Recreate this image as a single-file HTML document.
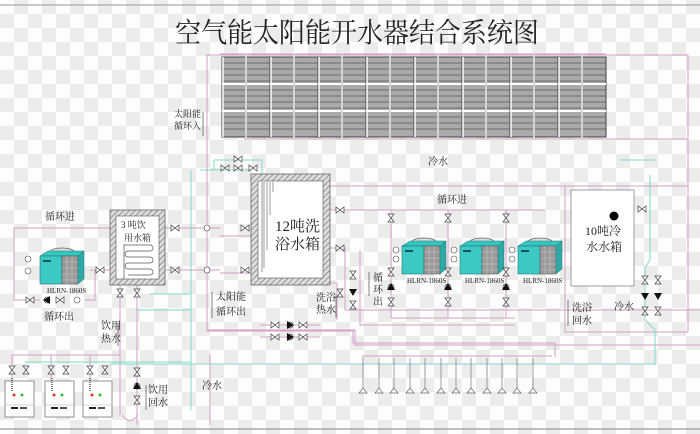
<!DOCTYPE html>
<html><head><meta charset="utf-8"><style>
html,body{margin:0;padding:0}
body{width:700px;height:434px;overflow:hidden;background-color:#fff;background-image:repeating-conic-gradient(#ececec 0 25%,#fdfdfd 0 50%);background-size:28px 28px}
svg{position:absolute;left:0;top:0}
text{font-family:"Liberation Serif","Noto Serif CJK SC",serif;fill:#222}
</style></head><body>
<svg width="700" height="434" viewBox="0 0 700 434" xmlns="http://www.w3.org/2000/svg">
<defs>
<pattern id="hatch" width="4" height="4" patternUnits="userSpaceOnUse" patternTransform="rotate(45)">
<rect width="4" height="4" fill="#ddd"/><line x1="0" y1="0" x2="0" y2="4" stroke="#777" stroke-width="1.4"/></pattern>
<g id="panel">
<rect x="0" y="0" width="48" height="80" fill="#a9a9a9"/>
<g stroke="#6a6a6a" stroke-width="1">
<line x1="0" y1="6" x2="48" y2="6"/><line x1="0" y1="12" x2="48" y2="12"/><line x1="0" y1="18" x2="48" y2="18"/><line x1="0" y1="24" x2="48" y2="24"/>
<line x1="0" y1="33" x2="48" y2="33"/><line x1="0" y1="39" x2="48" y2="39"/><line x1="0" y1="45" x2="48" y2="45"/><line x1="0" y1="51" x2="48" y2="51"/>
<line x1="0" y1="60" x2="48" y2="60"/><line x1="0" y1="66" x2="48" y2="66"/><line x1="0" y1="72" x2="48" y2="72"/></g>
<rect x="0" y="0" width="48" height="80" fill="none" stroke="#444" stroke-width="1"/>
<line x1="0" y1="27" x2="48" y2="27" stroke="#fff" stroke-width="2"/>
<line x1="0" y1="54" x2="48" y2="54" stroke="#fff" stroke-width="2"/>
<line x1="1" y1="0" x2="1" y2="80" stroke="#fff" stroke-width="1.5"/>
<line x1="24" y1="-3" x2="24" y2="83" stroke="#fff" stroke-width="2"/>
<line x1="24" y1="-3" x2="24" y2="83" stroke="#555" stroke-width="0.5"/>
</g>
<g id="hp">
<ellipse cx="22" cy="-2" rx="12" ry="4" fill="#ddd" stroke="#666" stroke-width="0.8"/>
<polygon points="0,2 8,-3 44,-3 38,2" fill="#35c6c0" stroke="#277" stroke-width="0.5"/>
<rect x="0" y="2" width="22" height="28" fill="#3cc9c3" stroke="#277" stroke-width="0.6"/>
<rect x="22" y="2" width="16" height="28" fill="#9a9a9a" stroke="#555" stroke-width="0.6"/>
<polygon points="38,2 44,-3 44,25 38,30" fill="#2ea9a4" stroke="#277" stroke-width="0.5"/>
<g stroke="#ccc" stroke-width="0.5"><line x1="22" y1="8" x2="38" y2="8"/><line x1="22" y1="14" x2="38" y2="14"/><line x1="22" y1="20" x2="38" y2="20"/><line x1="22" y1="26" x2="38" y2="26"/>
<line x1="27" y1="2" x2="27" y2="30"/><line x1="32" y1="2" x2="32" y2="30"/></g>
<rect x="3" y="6" width="8" height="2" fill="#156"/>
</g>
<g id="vv"><path d="M-3,-4 L3,-4 L-3,4 L3,4 Z" fill="#fff" stroke="#444" stroke-width="0.7"/></g>
<g id="vh"><path d="M-4,-3 L-4,3 L4,-3 L4,3 Z" fill="#fff" stroke="#444" stroke-width="0.7"/></g>
<g id="pump"><circle r="3" fill="#fff" stroke="#333" stroke-width="0.6"/><polygon points="-4,3 4,3 0,-4" fill="#111"/></g>
<g id="pumpd"><polygon points="-4,-3 4,-3 0,4" fill="#111"/></g>
<g id="shower"><line x1="0" y1="0" x2="0" y2="30" stroke="#888" stroke-width="0.8"/><path d="M-4,35 L0,30 L4,35 Z" fill="#fff" stroke="#666" stroke-width="0.7"/></g>
<g id="heater"><rect x="0" y="0" width="29" height="36" fill="#fff" stroke="#777" stroke-width="0.8"/>
<line x1="7" y1="-3" x2="7" y2="10" stroke="#555" stroke-width="1.5" stroke-dasharray="1 1"/>
<circle cx="9" cy="14" r="1.5" fill="#d33"/><circle cx="17" cy="14" r="1.5" fill="#3b3"/>
<line x1="0" y1="24" x2="29" y2="24" stroke="#aaa" stroke-width="0.5"/>
<rect x="6" y="26" width="7" height="2" fill="#222"/><rect x="15" y="26" width="7" height="2" fill="#555"/></g>
</defs>

<line x1="0" y1="5" x2="700" y2="5" stroke="#aaa" stroke-width="1.2"/>
<line x1="0" y1="429" x2="700" y2="429" stroke="#999" stroke-width="1.2"/>
<text x="357" y="42" font-size="26" text-anchor="middle" font-family="Liberation Sans,Noto Sans CJK SC,sans-serif" transform="translate(357 0) scale(1 1.05) translate(-357 -2)">空气能太阳能开水器结合系统图</text>

<!-- pink outer pipes -->
<g stroke="#d4a0c4" stroke-width="1" fill="none">
<polyline points="207,150 207,55 688,55 688,332"/>
<line x1="220" y1="54" x2="606" y2="54"/>
<line x1="244" y1="139" x2="688" y2="139"/>
<polyline points="207,150 207,330 355,330"/>
<line x1="220" y1="236" x2="251" y2="236"/>
<line x1="220" y1="273" x2="251" y2="273"/>
<line x1="165" y1="228" x2="220" y2="228"/>
<line x1="165" y1="270" x2="220" y2="270"/>
<polyline points="14,228 14,300 40,300"/>
<line x1="14" y1="228" x2="110" y2="228"/>
<polyline points="90,270 110,270"/>
<polyline points="85,300 95,300 95,270"/>
<polyline points="330,186 688,186"/>
<polyline points="330,210 545,210"/>
<polyline points="330,248 345,248 345,310 700,310"/>
<polyline points="360,250 360,325 515,325"/>
<line x1="391" y1="210" x2="391" y2="318"/><line x1="448" y1="210" x2="448" y2="318"/><line x1="506" y1="210" x2="506" y2="318"/>
<polyline points="391,318 515,318"/>
<polyline points="565,186 565,332 688,332"/>
<polyline points="330,283 337,283 337,320"/>
<polyline points="207,331 355,331 355,345 700,345"/>
<polyline points="353,332 353,343 555,343 555,357"/>
<polyline points="363,368 363,356 552,356"/>
<line x1="210" y1="354" x2="210" y2="425"/>
<line x1="12" y1="355" x2="120" y2="355"/>
<line x1="120" y1="285" x2="120" y2="415"/>
<line x1="12" y1="355" x2="12" y2="385"/><line x1="51" y1="355" x2="51" y2="385"/><line x1="90" y1="355" x2="90" y2="385"/>
</g>
<!-- cyan pipes -->
<g stroke="#7fd9cc" stroke-width="1" fill="none">
<line x1="191" y1="170" x2="191" y2="410"/>
<polyline points="214,170 214,160 262,160 262,174"/>
<line x1="200" y1="170" x2="250" y2="170"/>
<line x1="620" y1="160" x2="655" y2="160"/>
<polyline points="650,175 650,260 645,268 645,320 655,330 655,365"/>
<line x1="110" y1="364" x2="655" y2="364"/>
<line x1="25" y1="362" x2="191" y2="362"/>
<line x1="137" y1="310" x2="191" y2="310"/>
<line x1="150" y1="294" x2="190" y2="294"/>
</g>
<line x1="137" y1="283" x2="137" y2="425" stroke="#d4a0c4"/>
<path d="M122,415 Q130,426 138,415" fill="none" stroke="#d4a0c4"/>

<!-- solar panels -->
<g>
<use href="#panel" x="222" y="57"/><use href="#panel" x="270" y="57"/><use href="#panel" x="318" y="57"/><use href="#panel" x="366" y="57"/>
<use href="#panel" x="414" y="57"/><use href="#panel" x="462" y="57"/><use href="#panel" x="510" y="57"/><use href="#panel" x="558" y="57"/>
</g>
<text x="174" y="117" font-size="9">太阳能</text><text x="174" y="129" font-size="9">循环入</text>
<line x1="203" y1="112" x2="203" y2="136" stroke="#333" stroke-width="0.6"/>

<!-- valves near 12t tank top -->
<use href="#vh" x="238" y="159"/><use href="#vh" x="225" y="168"/><use href="#vh" x="238" y="168"/><use href="#vh" x="253" y="168"/>

<!-- 3t tank -->
<rect x="110" y="210" width="55" height="75" fill="url(#hatch)" stroke="#666" stroke-width="0.8"/>
<rect x="116" y="216" width="43" height="63" fill="#fff" stroke="#555" stroke-width="0.6"/>
<text x="121" y="228" font-size="9">3 吨饮</text><text x="124" y="241" font-size="9">用水箱</text>
<path d="M124,279 L124,245 H150 a3,3 0 0 1 0,6 H128 a3,3 0 0 0 0,6 H150 a3,3 0 0 1 0,6 H128 a3,3 0 0 0 0,6 H150 a3,3 0 0 1 0,6 H128" fill="none" stroke="#555" stroke-width="0.7"/>

<!-- 12t tank -->
<rect x="251" y="174" width="79" height="111" fill="url(#hatch)" stroke="#666" stroke-width="0.8"/>
<rect x="258" y="181" width="65" height="97" fill="#fff" stroke="#555" stroke-width="0.6"/>
<g stroke="#555" stroke-width="0.6"><line x1="262" y1="182" x2="262" y2="272"/><line x1="264" y1="182" x2="264" y2="268"/><line x1="267" y1="182" x2="267" y2="250"/><line x1="270" y1="182" x2="270" y2="215"/><line x1="273" y1="182" x2="273" y2="192"/></g>
<text x="275" y="231" font-size="15">12吨洗</text><text x="275" y="249" font-size="15">浴水箱</text>

<!-- 10t tank -->
<rect x="571" y="190" width="63" height="96" fill="#fff" stroke="#888" stroke-width="0.8"/>
<circle cx="614" cy="216" r="4.5" fill="#000"/>
<text x="585" y="235" font-size="12">10吨冷</text><text x="586" y="251" font-size="12">水水箱</text>

<!-- heat pumps -->
<use href="#hp" x="40" y="254"/>
<text x="47" y="293" font-size="7">HLRN-1860S</text>
<circle cx="28" cy="259" r="3" fill="#fff" stroke="#555" stroke-width="0.6"/><circle cx="28" cy="271" r="3" fill="#fff" stroke="#555" stroke-width="0.6"/>
<use href="#hp" x="402" y="244"/><use href="#hp" x="460" y="244"/><use href="#hp" x="518" y="244"/>
<text x="407" y="283" font-size="7">HLRN-1860S</text><text x="465" y="283" font-size="7">HLRN-1860S</text><text x="523" y="283" font-size="7">HLRN-1860S</text>
<g fill="#fff" stroke="#555" stroke-width="0.6"><circle cx="396" cy="250" r="3"/><circle cx="396" cy="259" r="3"/><circle cx="454" cy="250" r="3"/><circle cx="454" cy="259" r="3"/><circle cx="512" cy="250" r="3"/><circle cx="512" cy="259" r="3"/></g>

<!-- valves -->
<use href="#vh" x="100" y="270"/><use href="#vh" x="30" y="300"/><use href="#vh" x="60" y="300"/><circle cx="77" cy="300" r="3" fill="#fff" stroke="#555" stroke-width="0.6"/>
<use href="#pump" x="47" y="300" transform="rotate(-90 47 300)"/>
<use href="#vh" x="175" y="228"/><use href="#vh" x="175" y="270"/><use href="#vh" x="245" y="228"/><use href="#vh" x="245" y="270"/>
<circle cx="207" cy="228" r="3" fill="#fff" stroke="#444" stroke-width="0.6"/><circle cx="207" cy="270" r="3" fill="#fff" stroke="#444" stroke-width="0.6"/>
<use href="#vv" x="120" y="293"/><use href="#vv" x="137" y="293"/>
<use href="#vv" x="137" y="372"/><use href="#vv" x="137" y="400"/><use href="#pump" x="137" y="386"/>
<use href="#vv" x="12" y="370"/><use href="#vv" x="26" y="370"/><use href="#vv" x="51" y="370"/><use href="#vv" x="66" y="370"/><use href="#vv" x="90" y="370"/><use href="#vv" x="105" y="370"/>
<use href="#vh" x="340" y="210"/><use href="#vh" x="340" y="248"/>
<use href="#vv" x="391" y="218"/><use href="#vv" x="448" y="218"/><use href="#vv" x="506" y="218"/>
<use href="#vv" x="391" y="272"/><use href="#vv" x="448" y="272"/><use href="#vv" x="506" y="272"/>
<use href="#pump" x="391" y="287"/><use href="#pump" x="448" y="287"/><use href="#pump" x="506" y="287"/>
<use href="#vv" x="391" y="302"/><use href="#vv" x="448" y="302"/><use href="#vv" x="506" y="302"/>
<use href="#vv" x="353" y="275"/><use href="#pumpd" x="353" y="292"/><use href="#vv" x="353" y="305"/><use href="#vv" x="340" y="293"/>
<use href="#vv" x="645" y="280"/><use href="#vv" x="658" y="280"/><use href="#pumpd" x="645" y="296"/><use href="#pumpd" x="658" y="296"/><use href="#vv" x="645" y="311"/><use href="#vv" x="658" y="311"/>
<use href="#vh" x="642" y="209"/>
<g><polyline points="260,325 320,325" stroke="#d4a0c4" fill="none"/><polyline points="260,337 320,337" stroke="#d4a0c4" fill="none"/>
<use href="#vh" x="275" y="325"/><use href="#vh" x="303" y="325"/><use href="#vh" x="275" y="337"/><use href="#vh" x="303" y="337"/>
<use href="#pump" x="290" y="325" transform="rotate(90 290 325)"/><use href="#pump" x="290" y="337" transform="rotate(90 290 337)"/></g>

<!-- heaters -->
<use href="#heater" x="5" y="381"/><use href="#heater" x="45" y="381"/><use href="#heater" x="83" y="381"/>

<!-- showers -->
<g><use href="#shower" x="363" y="358"/><use href="#shower" x="379" y="358"/><use href="#shower" x="394" y="358"/><use href="#shower" x="410" y="358"/>
<use href="#shower" x="425" y="358"/><use href="#shower" x="441" y="358"/><use href="#shower" x="456" y="358"/><use href="#shower" x="471" y="358"/>
<use href="#shower" x="487" y="358"/><use href="#shower" x="502" y="358"/><use href="#shower" x="517" y="358"/><use href="#shower" x="533" y="358"/></g>

<!-- labels -->
<g font-size="10">
<text x="45" y="220">循环进</text><text x="44" y="320">循环出</text>
<text x="101" y="329">饮用</text><text x="101" y="342">热水</text>
<text x="148" y="393">饮用</text><text x="148" y="406">回水</text>
<text x="202" y="389">冷水</text>
<text x="216" y="300">太阳能</text><text x="216" y="315">循环出</text>
<text x="316" y="301">洗浴</text><text x="316" y="313">热水</text>
<text x="428" y="165">冷水</text>
<text x="437" y="203">循环进</text>
<text x="373" y="281">循</text><text x="373" y="293">环</text><text x="373" y="305">出</text>
<text x="572" y="311">洗浴</text><text x="572" y="324">回水</text>
<text x="614" y="310">冷水</text>
</g>
<g stroke="#333" stroke-width="0.6">
<line x1="118" y1="324" x2="118" y2="346"/><line x1="146" y1="385" x2="146" y2="410"/><line x1="212" y1="292" x2="212" y2="318"/>
<line x1="568" y1="300" x2="568" y2="326"/><line x1="369" y1="272" x2="369" y2="296"/><line x1="336" y1="295" x2="336" y2="318"/>
</g>
</svg>
</body></html>
